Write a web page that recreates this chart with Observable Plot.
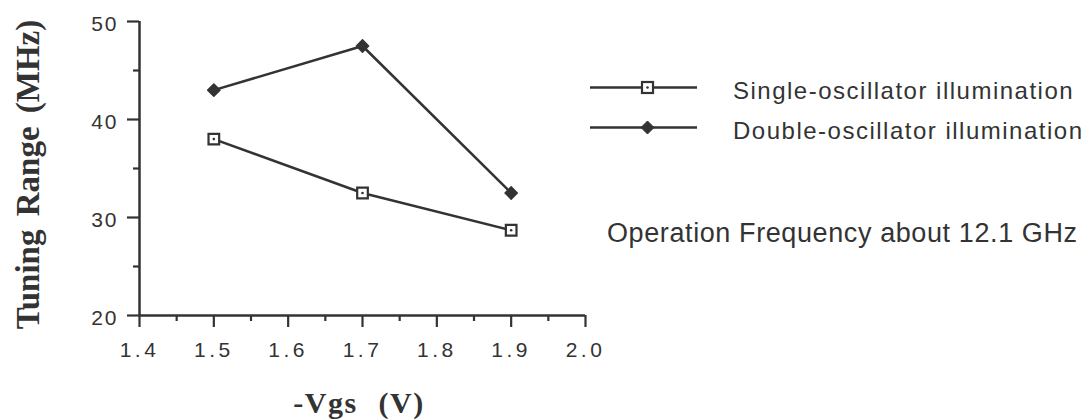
<!DOCTYPE html>
<html>
<head>
<meta charset="utf-8">
<script src="https://cdn.jsdelivr.net/npm/d3@7"></script>
<script src="https://cdn.jsdelivr.net/npm/@observablehq/plot@0.6"></script>
<style>
  html, body { margin: 0; padding: 0; background: #fff; }
  #wrap { position: relative; width: 1087px; height: 420px; overflow: hidden; }
  g[aria-label="x-axis tick label"] text { letter-spacing: 3.5px; }
  g[aria-label="y-axis tick label"] text { letter-spacing: 2px; }
  text.ytitle { word-spacing: 5px; }
  text.xtitle { letter-spacing: 1.5px; word-spacing: 12px; }
</style>
</head>
<body>
<div id="wrap"></div>
<script>
// ---- data ----
const vgs = [1.5, 1.7, 1.9];
const singleOsc = [38.0, 32.5, 28.7];
const doubleOsc = [43.0, 47.5, 32.5];
const seriesNames = ["Single-oscillator illumination", "Double-oscillator illumination"];
const xMajorTicks = [1.4, 1.5, 1.6, 1.7, 1.8, 1.9, 2.0];
const xMinorTicks = [1.45, 1.55, 1.65, 1.75, 1.85, 1.95];
const yMajorTicks = [20, 30, 40, 50];
const yMinorTicks = [25, 35, 45];
const xTitle = "-Vgs (V)";
const yTitle = "Tuning Range (MHz)";
const noteText = "Operation Frequency about 12.1 GHz";

const ink = "#333";
const serif = "'Liberation Serif', 'Times New Roman', serif";
const sans = "'Liberation Sans', Arial, sans-serif";
const singleRows = vgs.map((v, i) => ({x: v, y: singleOsc[i]}));
const doubleRows = vgs.map((v, i) => ({x: v, y: doubleOsc[i]}));

const plot = Plot.plot({
  width: 1087,
  height: 420,
  marginLeft: 139,
  marginRight: 502,
  marginTop: 21,
  marginBottom: 105,
  x: {domain: [1.4, 2.0]},
  y: {domain: [20, 50]},
  style: {fontFamily: sans, color: ink, background: "#fff"},
  marks: [
    Plot.axisX(xMajorTicks, {tickSize: 12, tickPadding: 15, strokeWidth: 2.2, fontSize: 21, tickFormat: d3.format(".1f"), label: null}),
    Plot.axisX(xMinorTicks, {tickSize: 6, strokeWidth: 2.2, tickFormat: () => "", label: null}),
    Plot.axisY(yMajorTicks, {tickSize: 12, strokeWidth: 2.2, tickFormat: () => "", label: null}),
    Plot.axisY(yMajorTicks, {tickSize: 0, tickPadding: 21, fontSize: 21, dy: 2.5, label: null}),
    Plot.axisY(yMinorTicks, {tickSize: 6, strokeWidth: 2.2, tickFormat: () => "", label: null}),
    Plot.ruleX([1.4], {stroke: ink, strokeWidth: 2.5}),
    Plot.ruleY([20], {stroke: ink, strokeWidth: 2.5}),
    Plot.line(singleRows, {x: "x", y: "y", stroke: ink, strokeWidth: 2.5}),
    Plot.line(doubleRows, {x: "x", y: "y", stroke: ink, strokeWidth: 2.5}),
    Plot.dot(singleRows, {x: "x", y: "y", symbol: "square", r: 6, fill: "#fff", stroke: ink, strokeWidth: 2.2}),
    Plot.dot(singleRows, {x: "x", y: "y", r: 1.3, fill: ink}),
    Plot.dot(doubleRows, {x: "x", y: "y", symbol: "diamond2", r: 5.5, fill: ink, stroke: ink, strokeWidth: 1.5, strokeLinejoin: "round"}),
    Plot.text([yTitle], {frameAnchor: "left", textAnchor: "middle", lineAnchor: "middle", dx: -111, dy: 6, rotate: -90, fontFamily: serif, fontWeight: "bold", fontSize: 33, fill: ink}),
    Plot.text([xTitle], {frameAnchor: "bottom", textAnchor: "middle", lineAnchor: "middle", dy: 87.5, dx: -3.5, fontFamily: serif, fontWeight: "bold", fontSize: 30, fill: ink})
  ]
});
const wrap = document.getElementById("wrap");
wrap.appendChild(plot);
// tag the title texts for spacing styles
d3.select(plot).selectAll("text").each(function() {
  const t = this.textContent;
  if (t === yTitle) this.classList.add("ytitle");
  if (t === xTitle) this.classList.add("xtitle");
});

// ---- legend and note (added on top) ----
const legendTops = [87.5, 127.5];
const legend = d3.select(wrap).append("svg")
  .attr("width", 1087).attr("height", 420)
  .style("position", "absolute").style("left", "0px").style("top", "0px");
seriesNames.forEach((name, i) => {
  const g = legend.append("g").attr("transform", `translate(0,${legendTops[i]})`);
  g.append("line").attr("x1", 590).attr("x2", 697).attr("y1", 0).attr("y2", 0).attr("stroke", ink).attr("stroke-width", 2.5);
  if (i === 0) {
    g.append("rect").attr("x", 642).attr("y", -5.5).attr("width", 11).attr("height", 11).attr("fill", "#fff").attr("stroke", ink).attr("stroke-width", 2.2);
    g.append("circle").attr("cx", 647.5).attr("cy", 0).attr("r", 1.3).attr("fill", ink);
  } else {
    g.append("path").attr("d", "M647.5,-6.5L654,0L647.5,6.5L641,0Z").attr("fill", ink).attr("stroke", ink).attr("stroke-linejoin", "round");
  }
  g.append("text").attr("x", 733).attr("y", 3.5).attr("dy", "0.35em")
    .attr("font-family", sans).attr("font-size", 24)
    .attr("letter-spacing", "1.5px").attr("fill", ink).text(name);
});
legend.append("text").attr("x", 607).attr("y", 232.5).attr("dy", "0.35em")
  .attr("font-family", sans).attr("font-size", 27)
  .attr("letter-spacing", "0.6px").attr("fill", ink).text(noteText);
</script>
</body>
</html>
